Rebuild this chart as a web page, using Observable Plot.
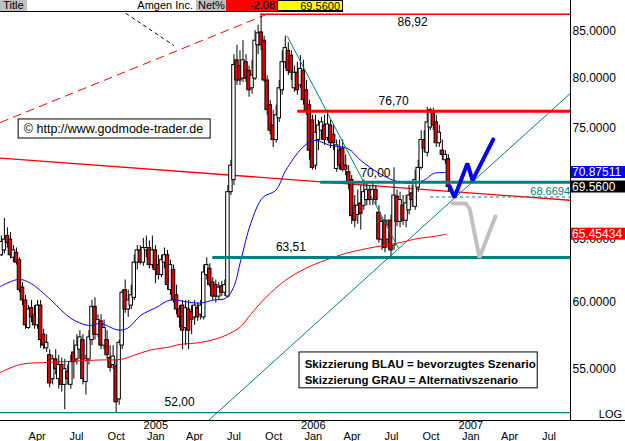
<!DOCTYPE html>
<html><head><meta charset="utf-8">
<script src="https://cdn.jsdelivr.net/npm/d3@7"></script>
<script src="https://cdn.jsdelivr.net/npm/@observablehq/plot@0.6"></script>
<style>
html,body{margin:0;padding:0;background:#fff;}
body{width:625px;height:441px;overflow:hidden;font-family:'Liberation Sans',Arial,sans-serif;}
#hdr{position:relative;width:625px;height:12px;font-size:11px;line-height:11px;color:#000;}
#hdr .c{position:absolute;top:0;height:11px;overflow:hidden;white-space:nowrap;box-sizing:border-box;padding:0 2px;}
#chart svg{display:block;}
</style></head><body>
<div id="hdr"></div>
<div id="chart"></div>
<script>
// ---------- header values ----------
const titleText = "Amgen Inc.";
const netPct = "-2.08";
const lastPrice = "69.5600";

// ---------- weekly candles (Amgen, first week ending 2004-01-09) ----------
const firstWeek = "2004-01-09";
const open = [63.7,64.1,65.3,65.0,63.5,63.9,63.3,61.1,60.1,58.0, 59.5,59.0,58.2,59.7,57.5,56.5,56.0,54.3,55.7,54.3,
 55.3,53.9,54.8,53.9,56.2,55.7,56.4,57.1,54.1,55.7, 57.1,59.6,57.5,58.5,56.7,57.1,55.8,55.3,55.2,52.9,
 56.7,60.9,59.4,59.7,60.3,63.1,64.1,63.1,64.1,64.3, 62.9,64.1,62.9,62.1,63.1,63.7,60.9,62.5,60.5,59.4,
 59.7,58.0,59.4,59.2,58.8,59.5,59.0,58.8,62.1,62.6, 61.5,61.3,60.4,61.2,60.7,60.4,69.1,70.2,81.9,81.3,
 80.0,81.7,80.8,79.0,80.0,83.5,84.9,84.0,79.8,77.3, 75.3,73.9,76.0,78.8,81.7,82.9,82.4,79.0,80.6,79.3,
 80.8,78.8,77.3,75.8,71.5,73.9,74.8,75.3,74.1,75.3, 74.4,71.2,72.9,73.1,71.5,70.9,70.2,67.9,67.1,68.1,
 67.9,68.4,69.3,68.4,69.3,67.3,65.0,66.6,65.0,66.6, 64.5,68.7,66.5,67.9,66.6,67.5,69.0,67.8,69.5,71.3,
 73.9,72.7,75.1,76.6,75.6,73.6,72.9,72.0,72.1];
const high = [65.3,66.8,66.0,65.6,64.5,64.3,63.5,61.5,60.5,59.7, 60.1,59.7,60.1,60.1,57.9,57.5,56.4,56.0,56.4,56.0,
 55.8,55.7,55.3,56.0,57.1,57.5,57.8,57.5,56.0,57.8, 60.1,60.3,59.0,59.0,58.6,57.8,56.7,56.7,55.7,57.1,
 60.9,61.7,60.9,61.3,63.7,64.5,64.5,65.1,65.3,64.9, 65.3,64.5,63.7,63.7,64.3,64.1,63.3,62.9,61.3,59.7,
 60.1,60.1,60.1,59.7,60.1,59.9,60.1,62.9,63.5,63.0, 61.9,61.7,61.5,61.6,61.7,69.7,72.0,82.5,83.5,82.9,
 84.0,82.5,81.3,81.9,85.1,85.7,86.92,84.5,80.3,77.8, 76.8,77.3,79.8,82.9,84.5,83.8,82.9,81.3,81.7,82.4,
 81.9,79.8,77.8,76.3,76.3,75.8,76.1,76.3,76.8,75.8, 75.3,73.9,73.9,73.9,72.5,71.5,70.6,68.8,69.3,69.7,
 70.2,69.9,69.7,69.9,69.7,67.9,66.9,67.1,66.7,67.1, 71.3,69.3,69.1,68.8,68.8,69.7,69.7,71.1,72.0,74.8,
 74.8,77.1,77.0,77.0,76.3,75.3,73.9,72.9,72.5];
const low = [63.6,63.8,64.3,63.4,63.1,62.9,60.7,59.7,57.9,57.9, 58.4,57.9,57.9,56.5,56.4,56.2,53.7,53.9,54.6,53.6,
 53.4,52.2,53.9,53.6,54.3,55.3,55.7,53.9,53.2,55.3, 56.7,57.1,57.3,56.4,56.4,55.7,54.8,55.0,52.0,52.5,
 56.4,59.1,58.8,59.4,60.1,62.5,62.9,62.8,63.5,62.6, 62.6,61.4,61.7,61.9,62.6,60.9,60.5,59.9,59.0,58.0,
 56.4,56.7,56.4,57.5,58.2,58.5,58.6,58.6,61.7,61.1, 60.1,59.9,60.1,60.4,60.4,60.3,68.8,69.7,79.3,79.3,
 79.6,79.6,78.1,78.4,79.8,82.5,82.9,79.6,76.3,74.4, 73.2,73.6,75.6,78.3,81.0,80.3,79.8,78.6,78.3,79.0,
 77.3,76.3,72.0,71.1,71.1,72.9,73.9,73.4,73.8,73.1, 72.9,70.9,71.1,70.9,70.6,69.3,66.3,66.0,66.3,65.8,
 67.5,67.9,67.9,67.9,67.9,64.7,64.1,63.9,64.3,63.5, 64.1,66.1,66.0,66.2,66.0,67.1,67.8,67.5,69.1,71.1,
 72.7,72.3,74.8,74.8,73.2,73.2,72.0,71.6,69.1];
const close = [64.8,65.0,64.7,63.7,64.1,63.1,60.9,60.1,58.2,59.4, 58.8,58.2,59.7,57.1,56.7,56.9,54.0,55.7,55.0,55.3,
 53.9,55.0,54.3,55.5,55.5,56.7,57.3,54.3,55.7,57.3, 59.6,57.5,58.6,56.7,58.0,56.0,55.1,55.9,52.7,56.9,
 60.7,59.4,60.1,60.5,63.1,64.1,63.1,64.3,64.3,62.9, 64.1,62.5,62.1,63.3,63.7,61.3,62.9,60.1,59.4,58.8,
 57.8,59.5,57.8,58.6,59.7,58.8,59.7,62.3,62.9,61.3, 60.4,60.4,61.1,60.7,61.3,69.1,71.5,81.4,79.8,79.8,
 81.9,80.0,78.8,80.3,84.0,84.8,83.5,79.8,76.8,74.8, 73.9,76.3,79.0,81.7,83.2,80.8,80.6,80.6,78.8,81.0,
 77.8,76.8,72.9,71.3,74.6,75.3,75.6,73.9,75.4,73.6, 73.6,73.4,71.5,71.1,71.1,69.9,67.0,66.6,67.9,67.2,
 69.1,69.3,68.4,69.3,68.4,65.0,66.5,64.3,66.2,64.1, 68.8,66.5,68.4,66.6,68.1,68.8,68.4,70.2,71.3,73.9,
 73.1,75.6,76.8,75.3,73.6,74.6,72.5,72.5,69.56];

// ---------- moving averages ----------
const blueDates = ["2004-01-07","2004-02-18","2004-03-17","2004-05-03","2004-06-18","2004-07-29","2004-08-26","2004-10-05","2004-10-28","2004-11-27",
 "2005-01-01","2005-02-04","2005-03-16","2005-04-15","2005-05-15","2005-06-12","2005-06-30","2005-07-17","2005-08-09","2005-09-06",
 "2005-10-06","2005-10-29","2005-12-07","2006-01-02","2006-02-10","2006-03-22","2006-04-21","2006-05-30","2006-07-06","2006-08-08",
 "2006-09-14","2006-10-07","2006-11-04"];
const blueVals = [61.19,61.75,61.44,60.13,58.73,58.19,58.34,57.85,57.99,58.95, 59.54,60.13,59.97,59.90,60.13,60.26,61.11,63.30,66.37,68.63,
 69.26,71.06,73.19,73.86,73.39,73.10,71.99,70.88,70.16,69.89, 70.16,70.79,70.875];
const redDates = ["2004-01-07","2004-02-23","2004-05-03","2004-08-26","2004-10-12","2004-11-11","2004-12-20","2005-01-28","2005-02-27","2005-04-15",
 "2005-05-31","2005-06-30","2005-07-17","2005-08-09","2005-09-13","2005-10-29","2005-12-14","2006-01-29","2006-03-17","2006-05-07",
 "2006-07-22","2006-08-31","2006-10-07","2006-11-04"];
const redVals = [54.78,55.34,55.49,55.66,55.70,55.99,56.38,56.57,56.79,56.93, 57.30,57.74,58.11,59.02,60.33,61.69,62.63,63.30,63.85,64.27,
 64.76,65.09,65.26,65.45];

// ---------- horizontal levels ----------
const levelVals   = [86.92, 76.70, 70.00, 63.51, 52.00];
const levelStart  = ["2005-09-01","2005-11-26","2006-01-18","2005-05-13","2004-01-07"];
const levelColor  = ["#ff0000","#ff0000","#008080","#008080","#008080"];
const levelWidth  = [1.5, 3, 3, 3, 1.2];
const levelText   = ["86,92","76,70","70,00","63,51","52,00"];
const levelTextX  = ["2006-08-19","2006-07-06","2006-05-25","2005-11-10","2005-02-25"];
const levelTextY  = [86.0, 77.67, 70.79, 64.35, 52.70];
const stopVal = 68.6694, stopStart = "2006-09-30", stopText = "68.6694";

// ---------- trend lines ----------
const redDashDates = ["2004-01-07","2005-09-20"], redDashVals = [75.6, 87.0];
const blackDashDates = ["2004-10-24","2005-02-11"], blackDashVals = [87.0, 83.5];
const longRedDates = ["2004-01-07","2007-08-20"], longRedVals = [72.2, 68.38];
const upTealDates = ["2005-05-03","2007-08-20"], upTealVals = [51.48, 78.5];
const downTealDates = ["2005-11-02","2006-07-17"], downTealVals = [84.45, 64.3];

// ---------- scenarios ----------
const blueScenDates = ["2006-11-13","2006-11-24","2006-12-24","2007-01-05","2007-02-22"];
const blueScenVals = [69.62, 68.63, 71.71, 70.16, 73.96];
const greyScenDates = ["2006-11-20","2006-12-20","2006-12-29","2007-01-21","2007-02-27"];
const greyScenVals = [68.10, 68.10, 67.67, 63.51, 66.97];

// ---------- axes ----------
const xDomain = ["2004-01-07","2007-08-20"];
const yDomain = [51.48, 87.11];
const yTicks = [55, 60, 65, 75, 80, 85];
const monthTicks = ["2004-04-01","2004-07-01","2004-10-01","2005-01-01","2005-04-01","2005-07-01","2005-10-01",
 "2006-01-01","2006-04-01","2006-07-01","2006-10-01","2007-01-01","2007-04-01","2007-07-01"];
const yearTicks = ["2005-01-01","2006-01-01","2007-01-01"];
const sideValues = [70.87511, 69.56, 65.45434];
const sideLabels = ["70.87511", "69.5600", "65.45434"];
const sideColors = ["#0000ff", "#000000", "#ff0000"];

// ---------- annotation boxes ----------
const copyText = "\u00a9 http://www.godmode-trader.de";
const copyBox = {x1:"2004-02-18", x2:"2005-05-08", y1:74.05, y2:75.89, tx:"2004-03-01", ty:74.92};
const legendLines = ["Skizzierung BLAU = bevorzugtes Szenario", "Skizzierung GRAU = Alternativszenario"];
const legendBox = {x1:"2005-11-30", x2:"2007-06-05", y1:53.66, y2:56.20, tx:"2005-12-12", ty:[55.34, 54.21]};

// =================================================================
const FONT = "'Liberation Sans', Arial, Helvetica, sans-serif";
const DAY = 864e5;
const D = s => new Date(s + "T00:00:00Z");

// header
const hdr = document.getElementById("hdr");
[["Title",0,27,"#c0c0c0","center",""],
 [titleText,27,168,"#ffffff","right",""],
 ["Net%",196,30,"#c0c0c0","left",""],
 [netPct,226,51,"#ff0000","right",""],
 [lastPrice,277,66,"#ffff00","right","border:1px solid #000;"]
].forEach(([t,l,w,bg,al,ex]) => {
  const d = document.createElement("div");
  d.className = "c";
  d.style.cssText = `left:${l}px;width:${w}px;background:${bg};text-align:${al};${ex}`;
  d.textContent = t;
  hdr.appendChild(d);
});
const hl = document.createElement("div");
hl.style.cssText = "position:absolute;left:0;top:11px;width:343px;height:1px;background:#000";
hdr.appendChild(hl);
const vl = document.createElement("div");
vl.style.cssText = "position:absolute;left:570px;top:0;width:1px;height:12px;background:#000";
hdr.appendChild(vl);

const t0 = D(firstWeek).getTime();
const candles = close.map((c, i) => ({date: new Date(t0 + i * 7 * DAY), open: open[i], high: high[i], low: low[i], close: c}));
const pts = (ds, vs) => ds.map((d, i) => ({date: D(d), v: vs[i]}));
const levels = levelVals.map((v, i) => ({v, from: D(levelStart[i]), to: D(xDomain[1]), color: levelColor[i], w: levelWidth[i]}));
const levelLbls = levelText.map((t, i) => ({t, x: D(levelTextX[i]), y: levelTextY[i]}));

function chrome(index, scales, values, dim) {
  const g = d3.create("svg:g").attr("font-family", FONT).attr("font-size", 12).attr("text-anchor", "start");
  const yb = dim.height - dim.marginBottom + 0.5;
  const xa = dim.width - dim.marginRight + 0.5;
  g.append("line").attr("x1", 0).attr("x2", dim.width).attr("y1", yb).attr("y2", yb).attr("stroke", "#000");
  g.append("line").attr("x1", xa).attr("x2", xa).attr("y1", 0).attr("y2", yb).attr("stroke", "#000");
  const x0 = dim.width - dim.marginRight + 1;
  sideValues.forEach((v, i) => {
    const y = scales.y(v);
    g.append("rect").attr("x", x0).attr("y", y - 6).attr("width", dim.width - x0).attr("height", 12).attr("fill", sideColors[i]);
    g.append("text").attr("x", x0 + 1).attr("y", y).attr("dy", "0.36em").attr("text-anchor", "start").attr("fill", "#fff").text(sideLabels[i]);
  });
  g.append("text").attr("x", dim.width - 3).attr("y", yb - 3).attr("text-anchor", "end").attr("font-size", 11).text("LOG");
  return g.node();
}

const chart = Plot.plot({
  width: 625, height: 429,
  marginLeft: 0, marginRight: 55, marginTop: 0, marginBottom: 21,
  style: {fontFamily: FONT, fontSize: "12px", background: "#fff", color: "#000", overflow: "visible"},
  x: {type: "utc", domain: xDomain.map(D)},
  y: {type: "log", domain: yDomain},
  marks: [
    Plot.line(pts(longRedDates, longRedVals), {x: "date", y: "v", stroke: "#ff0000", strokeWidth: 1.3, clip: true}),
    Plot.line(pts(redDashDates, redDashVals), {x: "date", y: "v", stroke: "#ff0000", strokeWidth: 1, strokeDasharray: "8,6", clip: true}),
    Plot.line(pts(blackDashDates, blackDashVals), {x: "date", y: "v", stroke: "#000", strokeWidth: 1, strokeDasharray: "3,4", clip: true}),
    Plot.ruleX(candles, {x: "date", y1: "low", y2: "high", stroke: "#000", strokeWidth: 1}),
    Plot.rect(candles, {x1: d => new Date(+d.date - 4 * DAY), x2: d => new Date(+d.date + 4 * DAY),
      y1: "open", y2: "close", fill: d => d.close < d.open ? "#e60000" : "#ffffff", stroke: "#000", strokeWidth: 1}),
    Plot.line(pts(redDates, redVals), {x: "date", y: "v", stroke: "#ff0000", strokeWidth: 1, curve: "catmull-rom"}),
    Plot.line(pts(blueDates, blueVals), {x: "date", y: "v", stroke: "#0000ff", strokeWidth: 1, curve: "catmull-rom"}),
    Plot.ruleY(levels, {y: "v", x1: "from", x2: "to", stroke: d => d.color, strokeWidth: d => d.w}),
    Plot.ruleY([stopVal], {y: d => d, x1: D(stopStart), x2: D(xDomain[1]), stroke: "#008080", strokeWidth: 1, strokeDasharray: "3,3"}),
    Plot.line(pts(upTealDates, upTealVals), {x: "date", y: "v", stroke: "#008080", strokeWidth: 1, clip: true}),
    Plot.line(pts(downTealDates, downTealVals), {x: "date", y: "v", stroke: "#008080", strokeWidth: 1, clip: true}),
    Plot.line(pts(greyScenDates, greyScenVals), {x: "date", y: "v", stroke: "#c0c0c0", strokeWidth: 4, strokeLinejoin: "miter"}),
    Plot.line(pts(blueScenDates, blueScenVals), {x: "date", y: "v", stroke: "#0000ff", strokeWidth: 4, strokeLinejoin: "miter"}),
    Plot.text(levelLbls, {x: "x", y: "y", text: "t", fill: "#000", fontSize: 12}),
    Plot.text([stopText], {x: D("2007-08-19"), y: 69.17, text: d => d, textAnchor: "end", fill: "#008080", fontSize: 11}),
    Plot.rect([copyBox], {x1: d => D(d.x1), x2: d => D(d.x2), y1: "y1", y2: "y2", fill: "#fff", stroke: "#000", strokeWidth: 1}),
    Plot.text([copyText], {x: D(copyBox.tx), y: copyBox.ty, text: d => d, textAnchor: "start", fontSize: 12.5, fill: "#000"}),
    Plot.rect([legendBox], {x1: d => D(d.x1), x2: d => D(d.x2), y1: "y1", y2: "y2", fill: "#fff", stroke: "#000", strokeWidth: 1}),
    Plot.text(legendLines, {x: D(legendBox.tx), y: (d, i) => legendBox.ty[i], text: d => d, textAnchor: "start", fontSize: 11.5, fontWeight: "bold", fill: "#000"}),
    Plot.axisY({anchor: "right", ticks: yTicks, tickFormat: d => d.toFixed(4), tickSize: 0, tickPadding: 2, fontSize: 12}),
    Plot.axisX({ticks: monthTicks.map(D), tickFormat: d3.utcFormat("%b"), tickSize: 0, tickPadding: 12, fontSize: 11}),
    Plot.axisX({ticks: yearTicks.map(D), tickFormat: d3.utcFormat("%Y"), tickSize: 0, tickPadding: 1, fontSize: 11}),
    chrome
  ]
});
document.getElementById("chart").appendChild(chart);
</script></body></html>
